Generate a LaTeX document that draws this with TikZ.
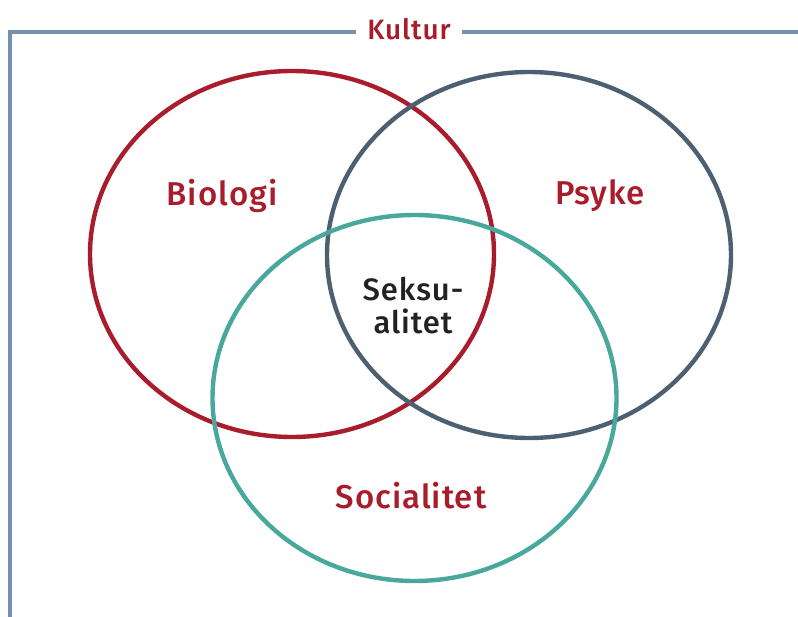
\documentclass[tikz,border=0pt]{standalone}
\usepackage{fontspec}
\setmainfont{Fira Sans Medium}[LetterSpace=3]
\definecolor{bioRed}{HTML}{A81C2B}
\definecolor{psySlate}{HTML}{4D6072}
\definecolor{socTeal}{HTML}{48A89C}
\definecolor{frameBlue}{HTML}{7490AA}
\definecolor{textDark}{HTML}{222222}
\tikzset{
  venn/.style={line width=4.4pt},
  frameline/.style={draw=frameBlue, line width=4pt},
  areaname/.style={text=bioRed, font=\fontsize{33}{38}\selectfont},
  corename/.style={text=textDark, font=\fontsize{31}{33}\selectfont, align=center},
}
\begin{document}
\begin{tikzpicture}[x=1pt,y=-1pt]
\useasboundingbox (0,0) rectangle (798,617);
% culture frame
\node[text=bioRed, font=\fontsize{28}{32}\selectfont] (kultur) at (409,29) {Kultur};
\coordinate (fbl) at (10,617);
\coordinate (ftl) at (10,32);
\coordinate (ftr) at (800,32);
\draw[frameline] (fbl) -- (ftl) -- ([xshift=-8pt]kultur.west |- ftl);
\draw[frameline] ([xshift=8pt]kultur.east |- ftr) -- (ftr);
% three circles
\draw[venn, draw=bioRed] (292,254) ellipse [x radius=202, y radius=183];
\draw[venn, draw=psySlate] (529,255) ellipse [x radius=202, y radius=183];
\draw[venn, draw=socTeal] (414.5,398) ellipse [x radius=202, y radius=183];
% labels
\node[areaname] (bio) at (222,196) {Biologi};
\node[areaname] (psy) at (600,196) {Psyke};
\node[areaname] (soc) at (411,496) {Socialitet};
\node[corename] (sex) at (413,306) {Seksu-\\alitet};
\end{tikzpicture}
\end{document}
